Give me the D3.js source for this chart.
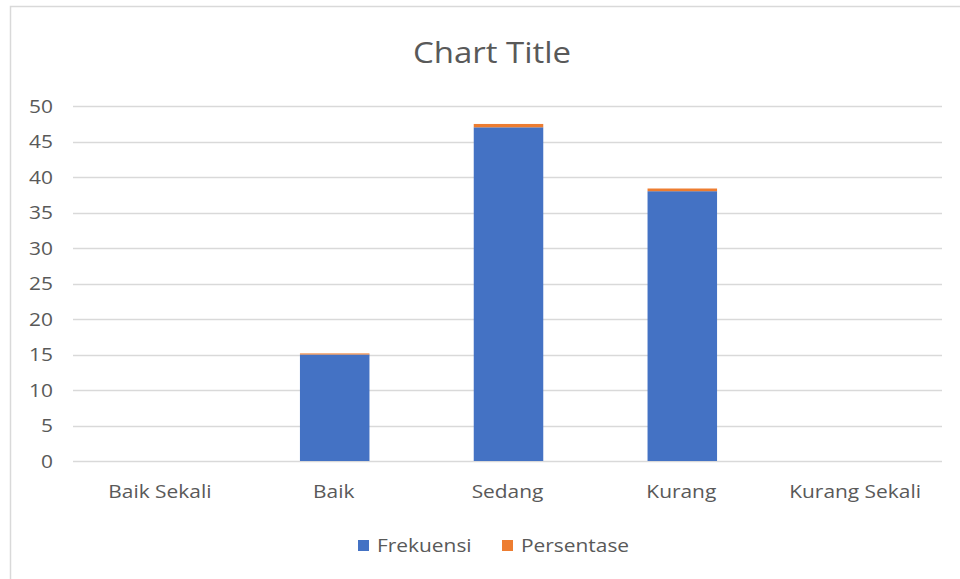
<!DOCTYPE html>
<html><head><meta charset="utf-8">
<script src="https://cdn.jsdelivr.net/npm/d3@7"></script>
<style>body{margin:0;background:#fff;}svg{display:block;}</style>
</head><body>
<script>
const categories = ["Baik Sekali", "Baik", "Sedang", "Kurang", "Kurang Sekali"];
const frekuensi = [0, 15, 47, 38, 0];
const persentase = [0, 0.15, 0.47, 0.38, 0];
const yTicks = [0, 5, 10, 15, 20, 25, 30, 35, 40, 45, 50];
const seriesNames = ["Frekuensi", "Persentase"];
const colors = ["#4472C4", "#ED7D31"];

const W = 960, H = 579;
const font = "'Open Sans', 'Noto Sans', sans-serif";
const SX = 1.1;
const svg = d3.select("body").append("svg").attr("width", W).attr("height", H);
svg.append("rect").attr("width", W).attr("height", H).attr("fill", "#fff");
// chart frame
svg.append("rect").attr("x", 10.5).attr("y", 6.5).attr("width", W + 10).attr("height", H + 10)
  .attr("fill", "#fff").attr("stroke", "#d9d9d9").attr("stroke-width", 1.5);

const x = d3.scaleBand().domain(categories).range([73, 942]).paddingInner(0.6).paddingOuter(0.3);
const y = d3.scaleLinear().domain([0, 50]).range([461, 106]);

// gridlines
svg.append("g").selectAll("line").data(yTicks).join("line")
  .attr("x1", 73).attr("x2", 942)
  .attr("y1", d => Math.round(y(d)) + 0.5).attr("y2", d => Math.round(y(d)) + 0.5)
  .attr("stroke", "#d9d9d9").attr("stroke-width", 1.5);

// y axis labels
const yAxis = d3.axisLeft(y).tickValues(yTicks).tickSize(0).tickPadding(20);
const ya = svg.append("g").attr("transform", "translate(73,0)").call(yAxis);
ya.select(".domain").remove();
ya.selectAll("text").attr("x", 0).attr("transform", `translate(-20,0) scale(${SX},1)`)
  .attr("fill", "#595959").style("font-family", font).style("font-size", "19px");

// x axis labels
const xAxis = d3.axisBottom(x).tickSize(0).tickPadding(24);
const xa = svg.append("g").attr("transform", "translate(0,461)").call(xAxis);
xa.select(".domain").remove();
xa.selectAll("text").attr("transform", `scale(${SX},1)`)
  .attr("fill", "#595959").style("font-family", font).style("font-size", "19px");

// stacked bars
const data = categories.map((c, i) => ({cat: c, Frekuensi: frekuensi[i], Persentase: persentase[i]}));
const stack = d3.stack().keys(seriesNames)(data);
svg.append("g").selectAll("g").data(stack).join("g")
  .attr("fill", (d, i) => colors[i])
  .selectAll("rect").data(d => d).join("rect")
  .attr("x", d => x(d.data.cat) + 1)
  .attr("width", x.bandwidth())
  .attr("y", d => y(d[1]))
  .attr("height", d => Math.max(0, y(d[0]) - y(d[1])));

// title
svg.append("g").attr("transform", "translate(492,63)")
  .append("text").attr("text-anchor", "middle").attr("transform", `scale(${SX},1)`)
  .attr("fill", "#595959").style("font-family", font).style("font-size", "30px").text("Chart Title");

// legend
const legX = [358, 502];
const leg = svg.append("g").selectAll("g").data(seriesNames).join("g")
  .attr("transform", (d, i) => `translate(${legX[i]},545)`);
leg.append("rect").attr("x", 0).attr("y", -5).attr("width", 11).attr("height", 11).attr("fill", (d, i) => colors[i]);
leg.append("g").attr("transform", "translate(19,7)")
  .append("text").attr("transform", `scale(${SX},1)`).attr("fill", "#595959")
  .style("font-family", font).style("font-size", "19px").text(d => d);
</script>
</body></html>
